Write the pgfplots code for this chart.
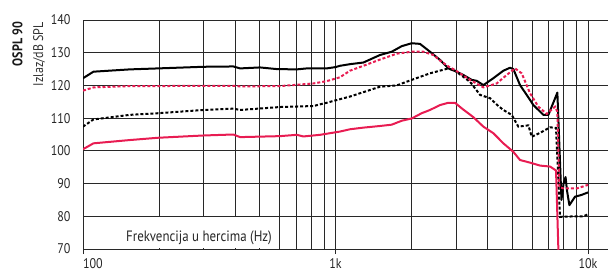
\documentclass[border=0pt]{standalone}
\usepackage{pgfplots}
\pgfplotsset{compat=1.18}
\usepackage{fontspec}
\setmainfont{PT Sans}[FakeStretch=0.86]
\definecolor{ored}{RGB}{232,28,82}
\definecolor{gridc}{RGB}{40,40,40}
\begin{document}
\begin{tikzpicture}[x=1bp,y=1bp]
\begin{axis}[
  scale only axis, width=525bp, height=229bp,
  xmode=log, xmin=100, xmax=12000, ymin=70, ymax=140,
  axis x line=bottom, axis y line=left, axis line style={-, draw=gridc, line width=0.9bp},
  xtick={100,1000,10000},
  xticklabels={\makebox[0pt][l]{100},1k,10k},
  ytick={70,80,...,140},
  ymajorgrids, xmajorgrids, xminorgrids,
  major grid style={draw=gridc, line width=0.9bp},
  minor grid style={draw=gridc, line width=0.9bp},
  tick align=outside,
  x tick style={draw=gridc, line width=0.9bp},
  major tick length=5bp, minor tick length=0pt,
  y tick style={draw=none},
  /pgf/number format/assume math mode=true,
  tick label style={font=\fontsize{14bp}{16bp}\selectfont, text=black!85},
  yticklabel style={xshift=-4bp},
  xticklabel style={yshift=-1bp},
  clip=true,
]
\fill[white] ([xshift=0.7bp,yshift=0.7bp]axis cs:100,70) rectangle ([yshift=-0.7bp]axis cs:586,80);
\node[anchor=base, font=\fontsize{15bp}{17bp}\selectfont, text=black!85] at (axis cs:288,72.4) {Frekvencija u hercima (Hz)};

% black solid
\addplot[black, line width=2bp, line join=round] coordinates {
(100,122.2) (110,124.2) (153,124.9) (198,125.2) (300,125.7) (394,125.8) (419,125.2) (502,125.5)
(585,125.0) (702,124.9) (769,125.2) (922,125.2) (1000,125.6) (1042,126.0) (1141,126.5) (1289,127.0)
(1500,129.3) (1669,130.3) (1829,132.0) (2003,132.9) (2161,132.7) (2367,130.3) (2594,127.8)
(2799,125.2) (2974,124.4) (3209,123.2) (3462,121.7) (3625,121.4) (3851,120.1) (4218,122.2)
(4621,124.5) (4910,125.4) (5062,125.0) (5379,120.1) (5718,117.1) (6076,114.0) (6657,111.0)
(6967,111.0) (7562,117.8) (7850,85.0) (8000,90.0) (8150,92.0) (8250,88.0) (8437,83.4)
(8883,86.0) (9400,86.5) (10000,87.3)
};
% black dashed
\addplot[black, line width=2bp, dash pattern=on 3bp off 2bp] coordinates {
(100,107.4) (110,109.6) (153,111.0) (198,111.5) (300,112.5) (394,112.9) (419,112.5) (603,113.4)
(817,113.7) (922,114.7) (1042,115.8) (1141,116.6) (1500,119.6) (1747,120.0) (2003,121.7)
(2367,123.7) (2799,125.2) (2974,124.5) (3410,121.1) (3737,117.1) (4092,116.1) (4415,113.7)
(4621,112.5) (4985,111.0) (5298,107.4) (5806,107.8) (5985,104.3) (6458,105.5) (7074,107.2)
(7470,107.0) (7747,79.8) (8000,79.9) (9583,80.0) (10000,80.6)
};
% red solid
\addplot[ored, line width=2bp, line join=round] coordinates {
(100,100.5) (110,102.3) (153,103.3) (198,104.0) (300,104.7) (394,105.0) (419,104.2) (603,104.5)
(702,104.9) (746,104.4) (868,104.9) (1042,105.9) (1141,106.6) (1289,107.1) (1500,107.6)
(1669,108.0) (1829,109.2) (2003,109.9) (2194,111.5) (2367,112.5) (2594,114.0) (2799,114.7)
(2974,114.7) (3160,113.0) (3515,110.3) (3851,107.4) (4218,105.4) (4621,102.3) (5062,99.7)
(5379,97.2) (5894,96.4) (6458,95.5) (7074,95.2) (7470,94.0) (7700,60)
};
% red dashed
\addplot[ored, line width=2bp, dash pattern=on 3bp off 2bp] coordinates {
(100,118.4) (110,119.4) (153,119.8) (198,119.8) (300,119.9) (394,119.9) (419,119.7) (603,119.8)
(702,120.2) (817,120.6) (922,121.3) (1042,122.5) (1141,124.5) (1289,126.0) (1500,127.9)
(1747,129.7) (2003,130.3) (2228,130.3) (2441,129.3) (2594,127.6) (2799,125.8) (2974,124.7)
(3410,121.7) (3851,119.4) (4348,120.6) (4764,123.2) (5139,125.2) (5462,123.7) (5894,117.6)
(6360,113.5) (6863,111.3) (7402,113.5) (7562,112.0) (7700,89.0) (8000,88.5) (9020,88.5) (10000,89.6)
};
\end{axis}
\node[rotate=90, anchor=east, inner sep=0pt, font=\fontsize{14bp}{16bp}\selectfont\bfseries, text=black!90] at (-65.5,227.3) {OSPL 90};
\node[rotate=90, anchor=east, inner sep=0pt, font=\fontsize{14bp}{16bp}\selectfont, text=black!80] at (-44,227) {Izlaz/dB SPL};
\pgfresetboundingbox
\path[use as bounding box] (-83,-19) rectangle (525,249);
\end{tikzpicture}
\end{document}
